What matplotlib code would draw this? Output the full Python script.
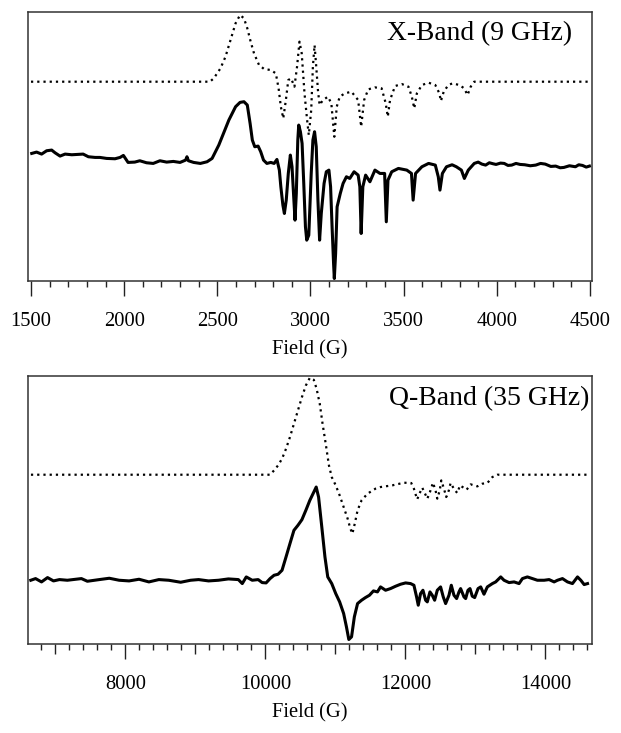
import matplotlib
matplotlib.use("Agg")
import matplotlib.pyplot as plt
import numpy as np

plt.rcParams['font.family'] = ['Liberation Serif', 'DejaVu Serif']

# X-band (9 GHz): simulated (dotted) and experimental (solid), read from the figure
# values are screen heights of the traces (larger = lower on the page)
x_sim_field = [1500, 2460, 2481, 2517, 2544, 2571, 2598, 2622, 2643, 2661, 2679, 2697, 2724,
               2751, 2787, 2814, 2829, 2841, 2854, 2868, 2881, 2896, 2914, 2928, 2941, 2953,
               2968, 2982, 2991, 3004, 3013, 3022, 3031, 3040, 3049, 3067, 3094, 3112, 3128,
               3141, 3157, 3184, 3220, 3256, 3272, 3288, 3310, 3346, 3382, 3404, 3415, 3427,
               3454, 3490, 3526, 3544, 3557, 3571, 3598, 3634, 3670, 3692, 3700, 3715, 3740,
               3762, 3800, 3825, 3843, 3860, 3879, 4500]
x_sim_level = [245, 245, 235, 205, 170, 120, 70, 45, 55, 85, 125, 160, 195,
               207, 210, 220, 265, 320, 355, 300, 240, 235, 260, 200, 125, 160,
               280, 360, 405, 330, 200, 135, 200, 270, 315, 300, 290, 310, 410,
               320, 290, 280, 275, 300, 380, 300, 268, 262, 265, 310, 350, 300,
               258, 252, 260, 290, 325, 280, 255, 248, 255, 280, 303, 275, 255,
               250, 255, 265, 285, 260, 245, 245]

x_exp_field = [1504, 1530, 1557, 1584, 1611, 1629, 1656, 1683, 1719, 1755, 1780, 1808, 1844,
               1870, 1906, 1951, 1978, 1996, 2021, 2057, 2084, 2120, 2156, 2192, 2228, 2264,
               2300, 2330, 2337, 2345, 2373, 2409, 2445, 2472, 2490, 2508, 2526, 2544, 2562,
               2580, 2598, 2622, 2643, 2661, 2676, 2688, 2701, 2719, 2733, 2748, 2766, 2787,
               2805, 2820, 2833, 2841, 2852, 2860, 2870, 2881, 2892, 2901, 2910, 2917, 2924,
               2932, 2937, 2946, 2955, 2964, 2973, 2980, 2991, 3004, 3013, 3022, 3031, 3040,
               3049, 3058, 3073, 3085, 3099, 3108, 3116, 3124, 3128, 3135, 3143, 3160, 3175,
               3193, 3211, 3234, 3256, 3265, 3272, 3281, 3296, 3319, 3346, 3373, 3398, 3407,
               3416, 3436, 3472, 3517, 3542, 3551, 3564, 3598, 3634, 3670, 3686, 3695, 3708,
               3730, 3760, 3783, 3810, 3826, 3847, 3879, 3900, 3920, 3940, 3960, 3980, 3996,
               4020, 4040, 4060, 4080, 4103, 4125, 4150, 4180, 4209, 4235, 4260, 4290, 4316,
               4340, 4360, 4390, 4422, 4440, 4460, 4480, 4497]
x_exp_level = [460, 456, 462, 452, 450, 458, 468, 462, 464, 463, 462, 470, 472,
               472, 475, 476, 472, 466, 487, 486, 482, 488, 490, 482, 486, 484,
               487, 480, 470, 482, 487, 490, 485, 475, 455, 435, 410, 385, 360,
               340, 320, 307, 305, 315, 370, 420, 440, 438, 455, 480, 490, 487,
               490, 478, 510, 560, 615, 640, 600, 520, 465, 500, 590, 660, 580,
               420, 375, 395, 430, 550, 680, 720, 705, 520, 420, 395, 440, 600,
               720, 640, 550, 515, 510, 560, 680, 790, 835, 760, 620, 580, 550,
               530, 535, 515, 525, 560, 700, 560, 525, 545, 510, 520, 520, 665,
               540, 515, 505, 510, 520, 600, 520, 500, 490, 495, 530, 570, 520,
               500, 494, 500, 510, 535, 510, 490, 486, 492, 495, 488, 491, 493,
               489, 490, 496, 495, 490, 493, 494, 497, 495, 490, 492, 499, 498,
               503, 502, 497, 500, 494, 496, 501, 498]

# Q-band (35 GHz)
q_sim_field = [6650, 10066, 10123, 10180, 10237, 10294, 10350, 10407, 10464, 10521, 10577,
               10634, 10691, 10731, 10776, 10816, 10861, 10907, 10947, 11004, 11060, 11117,
               11174, 11213, 11242, 11276, 11316, 11373, 11458, 11571, 11644, 11811, 11978,
               12083, 12121, 12145, 12168, 12200, 12240, 12280, 12312, 12350, 12393, 12430,
               12455, 12490, 12512, 12550, 12583, 12620, 12645, 12700, 12741, 12779, 12874,
               12932, 13027, 13098, 13170, 13242, 13313, 14640]
q_sim_level = [313, 313, 300, 285, 265, 235, 200, 160, 120, 80, 45,
               22, 28, 55, 100, 160, 220, 285, 320, 345, 375, 410,
               445, 475, 490, 460, 420, 390, 370, 355, 350, 345, 337,
               338, 355, 372, 387, 370, 352, 370, 385, 365, 337, 360,
               385, 360, 330, 355, 380, 360, 338, 358, 368, 345, 358,
               342, 348, 340, 338, 320, 313, 313]

q_exp_field = [6648, 6716, 6801, 6887, 6972, 7057, 7170, 7371, 7456, 7627, 7769, 7910, 8052,
               8194, 8335, 8477, 8619, 8789, 8931, 9045, 9187, 9329, 9471, 9613, 9669, 9726,
               9811, 9896, 9953, 10009, 10066, 10123, 10180, 10237, 10294, 10350, 10407, 10464,
               10521, 10577, 10634, 10691, 10725, 10759, 10805, 10850, 10890, 10947, 11004,
               11060, 11117, 11157, 11191, 11230, 11270, 11316, 11373, 11429, 11486, 11543,
               11600, 11644, 11716, 11787, 11859, 11930, 12002, 12073, 12121, 12159, 12183,
               12216, 12250, 12288, 12312, 12350, 12383, 12417, 12455, 12502, 12540, 12574,
               12622, 12655, 12693, 12731, 12765, 12788, 12836, 12860, 12893, 12922, 12955,
               12989, 13037, 13075, 13122, 13170, 13242, 13289, 13361, 13408, 13480, 13552,
               13623, 13671, 13742, 13814, 13885, 13981, 14052, 14124, 14172, 14243, 14315,
               14386, 14458, 14505, 14553, 14601]
q_exp_level = [630, 625, 635, 622, 632, 628, 630, 625, 633, 628, 624, 630, 632,
               627, 635, 628, 630, 636, 630, 628, 632, 630, 626, 628, 640, 620,
               630, 628, 637, 638, 625, 615, 612, 600, 560, 520, 480, 465,
               448, 420, 390, 365, 350, 380, 470, 560, 620, 640, 670,
               695, 730, 770, 808, 800, 740, 700, 690, 682, 675, 662,
               665, 650, 660, 655, 648, 642, 638, 640, 645, 680, 705,
               670, 660, 690, 695, 665, 675, 690, 660, 650, 680, 700,
               675, 645, 675, 685, 665, 655, 680, 685, 660, 655, 678,
               682, 655, 650, 672, 650, 640, 635, 620, 630, 637, 635,
               640, 625, 620, 625, 630, 630, 628, 635, 630, 625, 635,
               640, 620, 630, 643, 640]

fig = plt.figure(figsize=(6.21, 7.33), dpi=100)
ax1 = fig.add_axes([0.0451, 0.6173, 0.9082, 0.3659])
ax2 = fig.add_axes([0.0451, 0.1221, 0.9082, 0.3656])

for ax in (ax1, ax2):
    ax.set_yticks([])
    for s in ax.spines.values():
        s.set_linewidth(1.1)
        s.set_color('#333333')
    ax.tick_params(axis='x', which='both', direction='out', width=1.0, color='#222222',
                   labelsize=14.8, pad=12)
    ax.tick_params(axis='x', which='major', length=10.5)
    ax.tick_params(axis='x', which='minor', length=4)

# top panel
ax1.plot(x_sim_field, -np.array(x_sim_level), color='black', lw=1.6, ls=(0, (1, 1.8)))
ax1.plot(x_exp_field, -np.array(x_exp_level), color='black', lw=2.2)
ax1.set_xlim(1484, 4511)
ax1.set_ylim(-841, -37)
ax1.set_xticks(np.arange(1500, 4501, 500))
ax1.set_xticks(np.arange(1500, 4501, 100), minor=True)
ax1.set_xlabel('Field (G)', fontsize=14.8)
ax1.xaxis.set_label_coords(0.5, -0.223)
ax1.text(0.9645, 0.897, 'X-Band (9 GHz)', transform=ax1.transAxes, ha='right',
         va='baseline', fontsize=19.8)

# bottom panel
ax2.plot(q_sim_field, -np.array(q_sim_level), color='black', lw=1.6, ls=(0, (1, 1.8)))
ax2.plot(q_exp_field, -np.array(q_exp_level), color='black', lw=2.2)
ax2.set_xlim(6608, 14665)
ax2.set_ylim(-820, -15)
ax2.set_xticks(np.arange(7000, 14001, 1000))
ax2.set_xticklabels([str(v) if v % 2000 == 0 else '' for v in range(7000, 14001, 1000)])
ax2.set_xticks(np.arange(6800, 14601, 200), minor=True)
ax2.set_xlabel('Field (G)', fontsize=14.8)
ax2.xaxis.set_label_coords(0.5, -0.223)
ax2.text(0.9947, 0.890, 'Q-Band (35 GHz)', transform=ax2.transAxes, ha='right',
         va='baseline', fontsize=20)
for t in ax2.xaxis.get_major_ticks():
    if round(t.get_loc()) % 2000 != 0:
        t.tick1line.set_markersize(7)

fig.savefig('out.png', dpi=100)
